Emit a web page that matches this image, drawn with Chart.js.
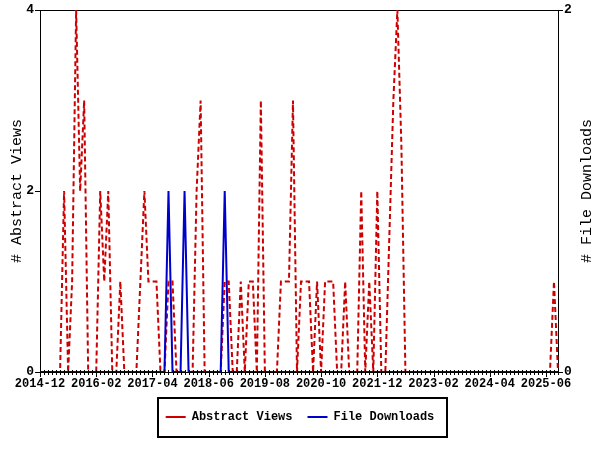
<!DOCTYPE html>
<html>
<head>
<meta charset="utf-8">
<script src="https://cdn.jsdelivr.net/npm/chart.js@4.4.1/dist/chart.umd.min.js"></script>
<style>
  html, body { margin: 0; padding: 0; background: #fff; }
</style>
</head>
<body>
<canvas id="chart" width="600" height="450"></canvas>
<script>
// monthly counts, 2014-12 .. 2025-09
const startYear = 2014;
const startMonth = 12;
const monthCount = 130;

const tickLabels = ["2014-12", "2016-02", "2017-04", "2018-06", "2019-08",
  "2020-10", "2021-12", "2023-02", "2024-04", "2025-06"];

const abstractViews = [
  0, 0, 0, 0, 0, 0, 2, 0, 1, 4,
  2, 3, 0, 0, 0, 2, 1, 2, 0, 0,
  1, 0, 0, 0, 0, 1, 2, 1, 1, 1,
  0, 0, 1, 1, 0, 0, 0, 0, 0, 2,
  3, 0, 0, 0, 0, 0, 1, 1, 0, 0,
  1, 0, 1, 1, 0, 3, 0, 0, 0, 0,
  1, 1, 1, 3, 0, 1, 1, 1, 0, 1,
  0, 1, 1, 1, 0, 0, 1, 0, 0, 0,
  2, 0, 1, 0, 2, 0, 0, 1.5, 3, 4,
  2.5, 0, 0, 0, 0, 0, 0, 0, 0, 0,
  0, 0, 0, 0, 0, 0, 0, 0, 0, 0,
  0, 0, 0, 0, 0, 0, 0, 0, 0, 0,
  0, 0, 0, 0, 0, 0, 0, 0, 1, 0
];

const fileDownloads = [
  0, 0, 0, 0, 0, 0, 0, 0, 0, 0,
  0, 0, 0, 0, 0, 0, 0, 0, 0, 0,
  0, 0, 0, 0, 0, 0, 0, 0, 0, 0,
  0, 0, 1, 0, 0, 0, 1, 0, 0, 0,
  0, 0, 0, 0, 0, 0, 1, 0, 0, 0,
  0, 0, 0, 0, 0, 0, 0, 0, 0, 0,
  0, 0, 0, 0, 0, 0, 0, 0, 0, 0,
  0, 0, 0, 0, 0, 0, 0, 0, 0, 0,
  0, 0, 0, 0, 0, 0, 0, 0, 0, 0,
  0, 0, 0, 0, 0, 0, 0, 0, 0, 0,
  0, 0, 0, 0, 0, 0, 0, 0, 0, 0,
  0, 0, 0, 0, 0, 0, 0, 0, 0, 0,
  0, 0, 0, 0, 0, 0, 0, 0, 0, 0
];

const months = [];
for (let k = 0; k < monthCount; k++) {
  const m = (startMonth - 1 + k) % 12 + 1;
  const y = startYear + Math.floor((startMonth - 1 + k) / 12);
  months.push(y + "-" + String(m).padStart(2, "0"));
}

const mono = "'Liberation Mono', 'DejaVu Sans Mono', monospace";

const framePlugin = {
  id: "frame",
  beforeDatasetsDraw(chart) {
    // frame round the plot area, under the lines
    const { ctx, chartArea: a } = chart;
    ctx.save();
    ctx.strokeStyle = "#000";
    ctx.lineWidth = 1;
    ctx.strokeRect(a.left + 0.5, a.top + 0.5, a.right - a.left, a.bottom - a.top);
    ctx.restore();
  },
  afterDatasetsDraw(chart) {
    // month ticks on the time axis, longer where a label sits
    const { ctx, chartArea: a } = chart;
    const xs = chart.scales.x;
    ctx.save();
    ctx.strokeStyle = "#000";
    ctx.lineWidth = 1;
    ctx.beginPath();
    for (let k = 0; k < months.length; k++) {
      const px = Math.round(xs.getPixelForValue(k)) + 0.5;
      const major = tickLabels.includes(months[k]);
      ctx.moveTo(px, a.bottom - 2);
      ctx.lineTo(px, a.bottom + (major ? 5 : 3));
    }
    ctx.stroke();
    ctx.restore();
  },
  afterDraw(chart) {
    const ctx = chart.ctx;
    const a = chart.chartArea;
    // right axis title, reading bottom to top like the left one
    ctx.save();
    ctx.translate(587, (a.top + a.bottom) / 2);
    ctx.rotate(-Math.PI / 2);
    ctx.fillStyle = "#000";
    ctx.font = "15px " + mono;
    ctx.textAlign = "center";
    ctx.textBaseline = "middle";
    ctx.fillText("# File Downloads", 0, 0);
    ctx.restore();

    // box round the legend
    const hb = chart.legend.legendHitBoxes;
    if (!hb || !hb.length) return;
    const left = Math.min(...hb.map(b => b.left)) - 8;
    const right = Math.max(...hb.map(b => b.left + b.width)) + 12;
    const cy = hb[0].top + hb[0].height / 2;
    ctx.save();
    ctx.strokeStyle = "#000";
    ctx.lineWidth = 2;
    ctx.strokeRect(Math.round(left), Math.round(cy - 19), Math.round(right - left), 39);
    ctx.restore();
  }
};

const ctx = document.getElementById("chart").getContext("2d");
new Chart(ctx, {
  type: "line",
  data: {
    labels: months,
    datasets: [
      {
        label: "Abstract Views",
        data: abstractViews,
        yAxisID: "y",
        borderColor: "#cc0000",
        backgroundColor: "#cc0000",
        borderWidth: 2,
        borderDash: [5, 3],
        pointRadius: 0,
        tension: 0,
        order: 1
      },
      {
        label: "File Downloads",
        data: fileDownloads,
        yAxisID: "y2",
        borderColor: "#0000cc",
        backgroundColor: "#0000cc",
        borderWidth: 2,
        pointRadius: 0,
        tension: 0,
        order: 0
      }
    ]
  },
  options: {
    responsive: false,
    animation: false,
    devicePixelRatio: 1,
    layout: { padding: { top: 10, right: 0, bottom: 17, left: 0 } },
    plugins: {
      tooltip: { enabled: false },
      legend: {
        position: "bottom",
        labels: {
          usePointStyle: true,
          pointStyle: "line",
          pointStyleWidth: 20,
          padding: 15,
          color: "#000",
          font: { family: mono, size: 12, weight: "bold" },
          sort: (a, b) => a.datasetIndex - b.datasetIndex
        }
      }
    },
    scales: {
      x: {
        grid: { display: false, drawTicks: false },
        border: { display: false },
        ticks: {
          autoSkip: false,
          maxRotation: 0,
          minRotation: 0,
          padding: 5,
          color: "#000",
          font: { family: mono, size: 12, weight: "bold" },
          callback: function (value) {
            const lab = this.getLabelForValue(value);
            return tickLabels.includes(lab) ? lab : "";
          }
        },
        afterFit(s) { s.height = 24; }
      },
      y: {
        position: "left",
        min: 0,
        max: 4,
        ticks: { stepSize: 2, padding: 1, color: "#000", font: { family: mono, size: 13, weight: "bold" } },
        grid: { drawOnChartArea: false, tickLength: 5, color: "#000" },
        border: { display: false },
        title: {
          display: true,
          text: "# Abstract Views",
          color: "#000",
          font: { family: mono, size: 15 },
          padding: { top: 8, bottom: 0 }
        },
        afterFit(s) { s.width = 40; }
      },
      y2: {
        position: "right",
        min: 0,
        max: 2,
        ticks: { stepSize: 2, padding: 1, color: "#000", font: { family: mono, size: 13, weight: "bold" } },
        grid: { drawOnChartArea: false, tickLength: 5, color: "#000" },
        border: { display: false },
        afterFit(s) { s.width = 42; }
      }
    }
  },
  plugins: [framePlugin]
});
</script>
</body>
</html>
